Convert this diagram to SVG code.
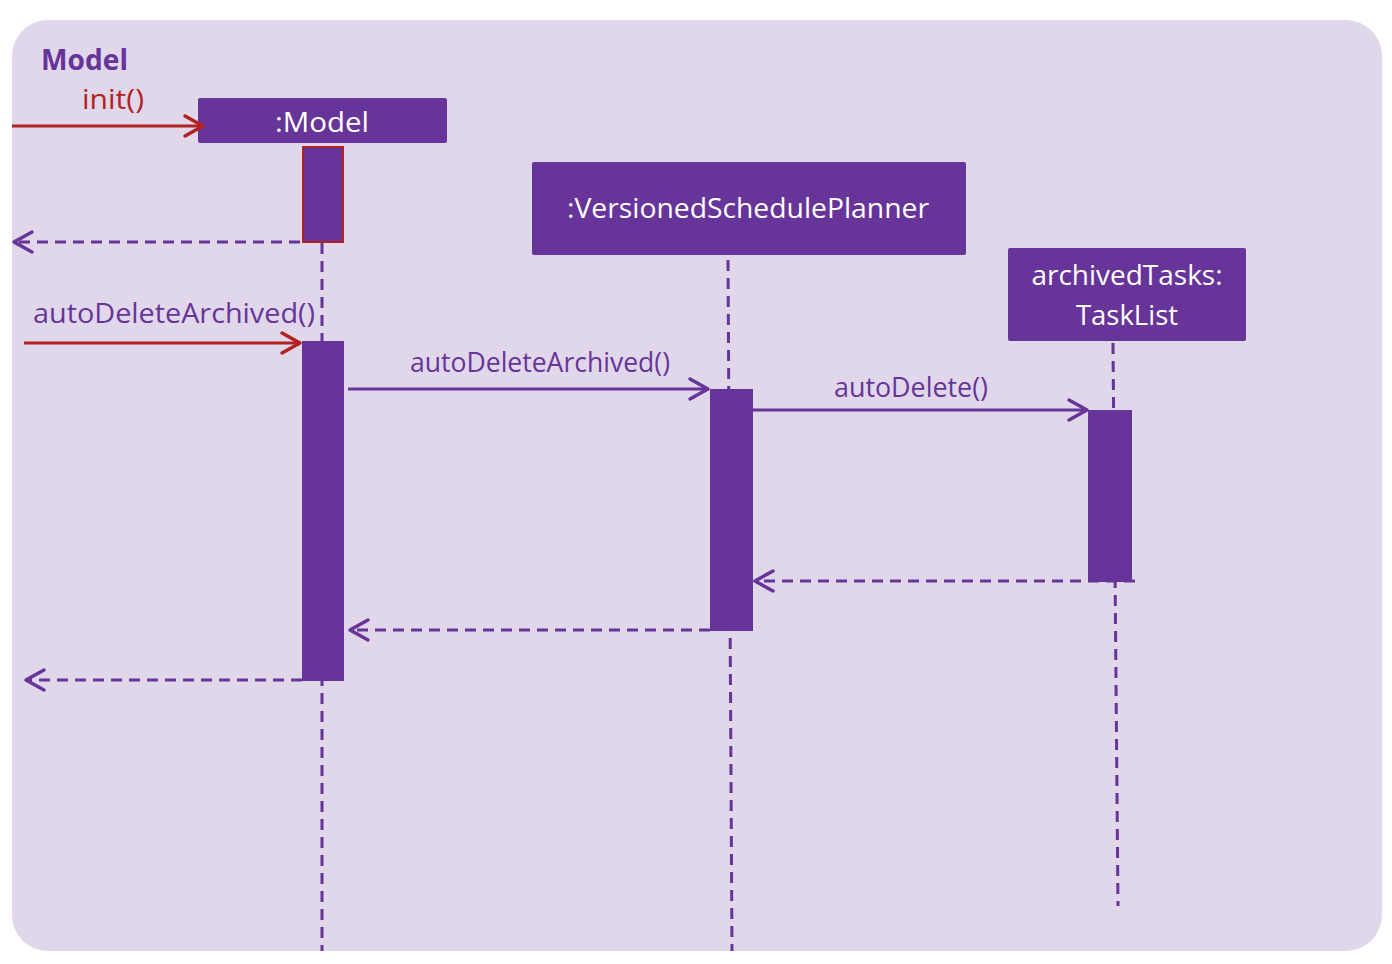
<svg xmlns="http://www.w3.org/2000/svg" width="1392" height="964" viewBox="0 0 1392 964">
<style>
.bg{fill:#E0D7EA}
.box{fill:#673499}
.lbl{font-family:"Open Sans","Noto Sans",sans-serif;font-size:28px;fill:#673499}
.red{fill:#B22222}
.wt{font-family:"Open Sans","Noto Sans",sans-serif;font-size:28px;fill:#ffffff;text-anchor:middle}
.life{stroke:#673499;stroke-width:3;stroke-dasharray:11 7;fill:none}
.sync{stroke:#673499;stroke-width:3;fill:none;marker-end:url(#ap)}
.syncr{stroke:#B22222;stroke-width:3;fill:none;marker-end:url(#ar)}
.ret{stroke:#673499;stroke-width:3;stroke-dasharray:11 7;fill:none;marker-end:url(#ap)}
</style>
<defs>
<marker id="ap" markerUnits="userSpaceOnUse" markerWidth="24" markerHeight="24" refX="20" refY="12" orient="auto" overflow="visible">
<path d="M2,2 L20,12 L2,22" fill="none" stroke="#673499" stroke-width="3.5" stroke-linecap="round" stroke-linejoin="round"/>
</marker>
<marker id="ar" markerUnits="userSpaceOnUse" markerWidth="24" markerHeight="24" refX="20" refY="12" orient="auto" overflow="visible">
<path d="M2,2 L20,12 L2,22" fill="none" stroke="#B22222" stroke-width="3.5" stroke-linecap="round" stroke-linejoin="round"/>
</marker>
</defs>
<rect class="bg" x="12" y="20" width="1370" height="931" rx="36" ry="36"/>
<text x="41" y="70" font-family="'Open Sans','Noto Sans',sans-serif" font-size="29" font-weight="bold" fill="#673499" textLength="87" lengthAdjust="spacingAndGlyphs">Model</text>

<g id="lifelines">
<line class="life" x1="322" y1="243" x2="322" y2="951"/>
<line class="life" x1="728" y1="260" x2="732" y2="951"/>
<line class="life" x1="1113" y1="343" x2="1118" y2="906"/>
</g>

<g id="model">
<rect class="box" x="198" y="98" width="249" height="45" rx="2"/>
<text class="wt" x="322" y="132" textLength="94" lengthAdjust="spacingAndGlyphs">:Model</text>
<rect x="303" y="147" width="40" height="95" fill="#673499" stroke="#B22222" stroke-width="2"/>
<rect class="box" x="302" y="341" width="42" height="340"/>
</g>

<g id="vsp">
<rect class="box" x="532" y="162" width="434" height="93" rx="2"/>
<text class="wt" x="748" y="218" textLength="362" lengthAdjust="spacingAndGlyphs">:VersionedSchedulePlanner</text>
<rect class="box" x="710" y="389" width="43" height="242"/>
</g>

<g id="tasklist">
<rect class="box" x="1008" y="248" width="238" height="93" rx="2"/>
<text class="wt" x="1127" y="285" textLength="191" lengthAdjust="spacingAndGlyphs">archivedTasks:</text>
<text class="wt" x="1127" y="325" textLength="102" lengthAdjust="spacingAndGlyphs">TaskList</text>
<rect class="box" x="1088" y="410" width="44" height="172"/>
</g>

<g id="connectors">
<line class="syncr" x1="12" y1="126" x2="203" y2="126"/>
<text class="lbl red" x="82" y="109" textLength="62" lengthAdjust="spacingAndGlyphs">init()</text>
<line class="ret" x1="300" y1="242" x2="14" y2="242"/>
<line class="syncr" x1="24" y1="343" x2="300" y2="343"/>
<text class="lbl" x="33" y="323" textLength="282" lengthAdjust="spacingAndGlyphs">autoDeleteArchived()</text>
<line class="sync" x1="348" y1="389" x2="708" y2="389"/>
<text class="lbl" x="410" y="372" textLength="260" lengthAdjust="spacingAndGlyphs">autoDeleteArchived()</text>
<line class="sync" x1="753" y1="410" x2="1087" y2="410"/>
<text class="lbl" x="834" y="397" textLength="154" lengthAdjust="spacingAndGlyphs">autoDelete()</text>
<line class="ret" x1="1135" y1="581" x2="755" y2="581"/>
<line class="ret" x1="710" y1="630" x2="350" y2="630"/>
<line class="ret" x1="302" y1="680" x2="26" y2="680"/>
</g>
</svg>
